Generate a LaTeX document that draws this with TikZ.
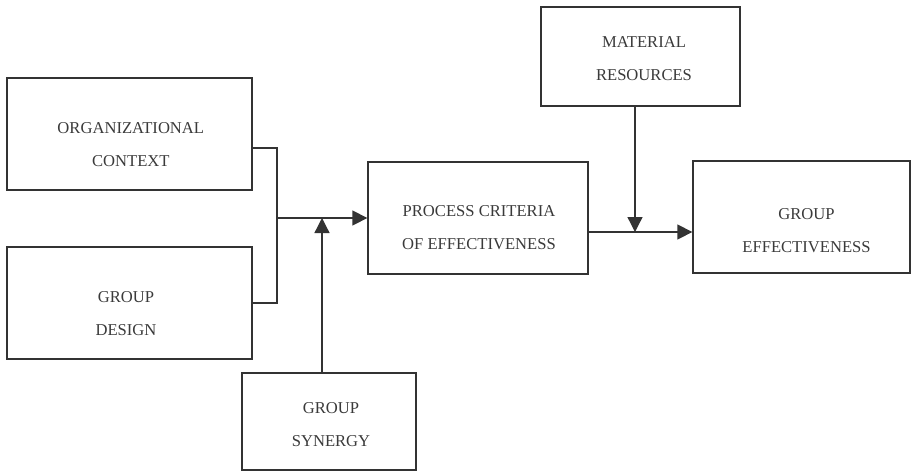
\documentclass[tikz,border=0pt]{standalone}
\usepackage{fontspec}
\setmainfont{Liberation Serif}
\usetikzlibrary{arrows.meta}
\definecolor{ink}{HTML}{333333}
\definecolor{txt}{HTML}{3A3A3A}
\tikzset{
  box/.style={draw=ink, line width=1.3pt, rectangle, inner sep=0pt},
  lbl/.style={text=txt, align=center, inner sep=0pt, font=\fontsize{16.6}{33}\selectfont},
  wire/.style={draw=ink, line width=1.3pt},
  flow/.style={wire, -{Triangle[length=15pt,width=15pt]}}
}
\begin{document}
\begin{tikzpicture}[x=1pt, y=-1pt]
  \useasboundingbox (0,0) rectangle (911,472);

  % boxes
  \node[box, minimum width=245pt, minimum height=112pt] (org) at (129.5,134) {};
  \node[box, minimum width=245pt, minimum height=112pt] (des) at (129.5,303) {};
  \node[box, minimum width=174pt, minimum height=97pt]  (syn) at (329,421.5) {};
  \node[box, minimum width=220pt, minimum height=112pt] (proc) at (478,218) {};
  \node[box, minimum width=199pt, minimum height=99pt]  (mat) at (640.5,56.5) {};
  \node[box, minimum width=217pt, minimum height=112pt] (eff) at (801.5,217) {};

  % labels
  \node[lbl] (orgT)  at (130.8,144.4) {ORGANIZATIONAL\\CONTEXT};
  \node[lbl] (desT)  at (126,314)     {GROUP\\DESIGN};
  \node[lbl] (synT)  at (331,425)     {GROUP\\SYNERGY};
  \node[lbl] (procT) at (479,227.5)   {PROCESS CRITERIA\\OF EFFECTIVENESS};
  \node[lbl] (matT)  at (644,59)      {MATERIAL\\RESOURCES};
  \node[lbl] (effT)  at (806.5,230.5) {GROUP\\EFFECTIVENESS};

  % junction points
  \coordinate (jn) at (277,218);
  \coordinate (sj) at (322,218);
  \coordinate (mj) at (635,232);

  % bracket joining context and design
  \draw[wire] ([yshift=-14pt]org.east) -| (jn) |- (des.east);
  \draw[flow] (jn) -- (proc.west);
  \draw[flow] (syn.north -| sj) -- (sj);

  % process to outcome, with resources feeding in
  \draw[flow] (proc.east |- mj) -- (eff.west |- mj);
  \draw[flow] (mat.south -| mj) -- (mj);
\end{tikzpicture}
\end{document}
